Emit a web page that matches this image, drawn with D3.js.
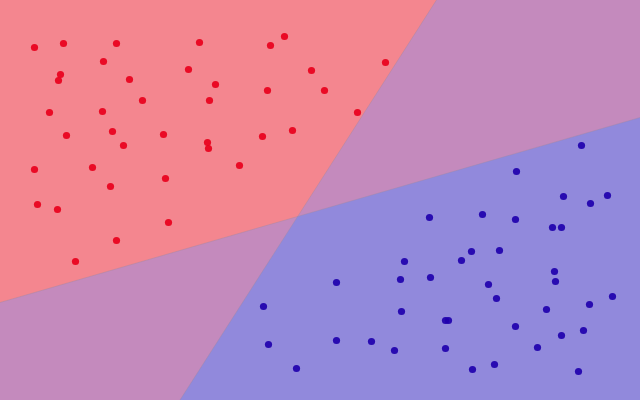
<!DOCTYPE html>
<html><head><meta charset="utf-8">
<script src="https://cdn.jsdelivr.net/npm/d3@7"></script>
<style>html,body{margin:0;padding:0;background:#fff}svg{display:block}</style>
</head><body>
<svg id="chart" width="640" height="400"></svg>
<script>
// Red class points [x, y] (y measured upward)
const redX = [34,63,116,199,103,60,58,129,188,215,142,209,49,102,66,112,163,207,284,270,311,385,267,324,357,292,262,208,123,34,92,239,110,165,37,57,168,116,75];
const redY = [353,357,357,358,339,326,320,321,331,316,300,300,288,289,265,269,266,258,364,355,330,338,310,310,288,270,264,252,255,231,233,235,214,222,196,191,178,160,139];
// Blue class points
const blueX = [581,516,563,607,590,429,482,515,552,561,471,499,461,404,554,336,400,430,555,488,496,612,589,263,401,546,445,448,268,336,371,394,445,515,583,561,537,296,472,494,578];
const blueY = [255,229,204,205,197,183,186,181,173,173,149,150,140,139,129,118,121,123,119,116,102,104,96,94,89,91,80,80,56,60,59,50,52,74,70,65,53,32,31,36,29];
// Decision boundaries: each as two points [x, y]
const lineA = [[0,97.5],[640,282.5]];
const lineB = [[180,0],[436.5,400]];
const xDomain = [0,640], yDomain = [0,400];

const W=640,H=400;
const svg=d3.select("#chart");
const x=d3.scaleLinear().domain(xDomain).range([0,W]);
const y=d3.scaleLinear().domain(yDomain).range([H,0]);

function intersect(a,b){
  const [x1,y1]=a[0],[x2,y2]=a[1],[x3,y3]=b[0],[x4,y4]=b[1];
  const d=(x1-x2)*(y3-y4)-(y1-y2)*(x3-x4);
  const t=((x1-x3)*(y3-y4)-(y1-y3)*(x3-x4))/d;
  return [x1+t*(x2-x1),y1+t*(y2-y1)];
}
const I=intersect(lineA,lineB);
const line=d3.line().x(d=>x(d[0])).y(d=>y(d[1]));

svg.append("rect").attr("x",0).attr("y",0).attr("width",W).attr("height",H).attr("fill","#c48abd");
const redPoly=[[xDomain[0],yDomain[1]],[lineB[1][0],yDomain[1]],I,[xDomain[0],lineA[0][1]]];
const bluePoly=[[xDomain[1],yDomain[0]],[xDomain[1],lineA[1][1]],I,[lineB[0][0],yDomain[0]]];
svg.append("path").attr("d",line(redPoly)+"Z").attr("fill","#f4868f");
svg.append("path").attr("d",line(bluePoly)+"Z").attr("fill","#9189dc");
// faint boundary edges
[lineA,lineB].forEach(l=>svg.append("path").attr("d",line(l)).attr("stroke","#9a8aa0")
  .attr("stroke-width",0.6).attr("stroke-opacity",0.6).attr("fill","none"));

const red=redX.map((v,i)=>[v,redY[i]]);
const blue=blueX.map((v,i)=>[v,blueY[i]]);
const off=0.5;
svg.append("g").selectAll("circle").data(red).join("circle")
  .attr("cx",d=>x(d[0])+off).attr("cy",d=>y(d[1])+off).attr("r",3.6)
  .attr("fill","#e8001c").attr("fill-opacity",0.92);
svg.append("g").selectAll("circle").data(blue).join("circle")
  .attr("cx",d=>x(d[0])+off).attr("cy",d=>y(d[1])+off).attr("r",3.6)
  .attr("fill","#2000ad").attr("fill-opacity",0.92);
</script>
</body></html>
